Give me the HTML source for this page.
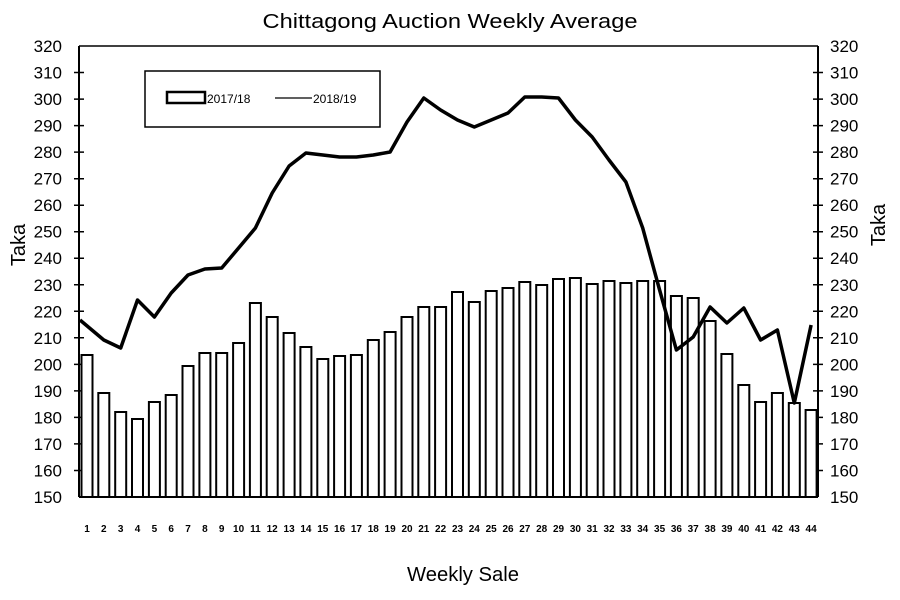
<!DOCTYPE html>
<html><head><meta charset="utf-8"><style>
html,body{margin:0;padding:0;background:#fff;}
svg{display:block;}
text{font-family:"Liberation Sans",sans-serif;fill:#000;}
</style></head><body>
<svg width="900" height="600" viewBox="0 0 900 600" xmlns="http://www.w3.org/2000/svg">
<text x="450" y="28" font-size="20" text-anchor="middle" textLength="375" lengthAdjust="spacingAndGlyphs">Chittagong Auction Weekly Average</text>
<text x="463" y="581" font-size="20" text-anchor="middle" textLength="112" lengthAdjust="spacingAndGlyphs">Weekly Sale</text>
<text transform="translate(25,245) rotate(-90)" font-size="20" text-anchor="middle">Taka</text>
<text transform="translate(885,225) rotate(-90)" font-size="20" text-anchor="middle">Taka</text>

<g stroke="#000" fill="none">
<line x1="79" y1="46" x2="818" y2="46" stroke-width="1.5"/>
<line x1="79" y1="46" x2="79" y2="497" stroke-width="2"/>
<line x1="818" y1="46" x2="818" y2="497" stroke-width="2"/>
<path stroke-width="1.5" d="M74 470.5H84M74 443.9H84M74 417.4H84M74 390.9H84M74 364.4H84M74 337.8H84M74 311.3H84M74 284.8H84M74 258.2H84M74 231.7H84M74 205.2H84M74 178.7H84M74 152.1H84M74 125.6H84M74 99.1H84M74 72.5H84
M813 470.5H823M813 443.9H823M813 417.4H823M813 390.9H823M813 364.4H823M813 337.8H823M813 311.3H823M813 284.8H823M813 258.2H823M813 231.7H823M813 205.2H823M813 178.7H823M813 152.1H823M813 125.6H823M813 99.1H823M813 72.5H823"/>
</g>

<g font-size="17" text-anchor="end">
<text x="62" y="503">150</text><text x="62" y="476.5">160</text><text x="62" y="450">170</text><text x="62" y="423.4">180</text><text x="62" y="396.9">190</text><text x="62" y="370.4">200</text><text x="62" y="343.8">210</text><text x="62" y="317.3">220</text><text x="62" y="290.8">230</text><text x="62" y="264.2">240</text><text x="62" y="237.7">250</text><text x="62" y="211.2">260</text><text x="62" y="184.7">270</text><text x="62" y="158.1">280</text><text x="62" y="131.6">290</text><text x="62" y="105.1">300</text><text x="62" y="78.5">310</text><text x="62" y="52">320</text>
</g>
<g font-size="17">
<text x="830" y="503">150</text><text x="830" y="476.5">160</text><text x="830" y="450">170</text><text x="830" y="423.4">180</text><text x="830" y="396.9">190</text><text x="830" y="370.4">200</text><text x="830" y="343.8">210</text><text x="830" y="317.3">220</text><text x="830" y="290.8">230</text><text x="830" y="264.2">240</text><text x="830" y="237.7">250</text><text x="830" y="211.2">260</text><text x="830" y="184.7">270</text><text x="830" y="158.1">280</text><text x="830" y="131.6">290</text><text x="830" y="105.1">300</text><text x="830" y="78.5">310</text><text x="830" y="52">320</text>
</g>

<g fill="#fff" stroke="#000" stroke-width="2">
<rect x="81.5" y="355" width="11" height="142"/>
<rect x="98.3" y="393" width="11" height="104"/>
<rect x="115.2" y="412" width="11" height="85"/>
<rect x="132" y="419" width="11" height="78"/>
<rect x="148.9" y="402" width="11" height="95"/>
<rect x="165.7" y="395" width="11" height="102"/>
<rect x="182.5" y="366" width="11" height="131"/>
<rect x="199.4" y="353" width="11" height="144"/>
<rect x="216.2" y="353" width="11" height="144"/>
<rect x="233.1" y="343" width="11" height="154"/>
<rect x="249.9" y="303" width="11" height="194"/>
<rect x="266.7" y="317" width="11" height="180"/>
<rect x="283.6" y="333" width="11" height="164"/>
<rect x="300.4" y="347" width="11" height="150"/>
<rect x="317.3" y="359" width="11" height="138"/>
<rect x="334.1" y="356" width="11" height="141"/>
<rect x="350.9" y="355" width="11" height="142"/>
<rect x="367.8" y="340" width="11" height="157"/>
<rect x="384.6" y="332" width="11" height="165"/>
<rect x="401.5" y="317" width="11" height="180"/>
<rect x="418.3" y="307" width="11" height="190"/>
<rect x="435.1" y="307" width="11" height="190"/>
<rect x="452" y="292" width="11" height="205"/>
<rect x="468.8" y="302" width="11" height="195"/>
<rect x="485.7" y="291" width="11" height="206"/>
<rect x="502.5" y="288" width="11" height="209"/>
<rect x="519.3" y="282" width="11" height="215"/>
<rect x="536.2" y="285" width="11" height="212"/>
<rect x="553" y="279" width="11" height="218"/>
<rect x="569.9" y="278" width="11" height="219"/>
<rect x="586.7" y="284" width="11" height="213"/>
<rect x="603.5" y="281" width="11" height="216"/>
<rect x="620.4" y="283" width="11" height="214"/>
<rect x="637.2" y="281" width="11" height="216"/>
<rect x="654.1" y="281" width="11" height="216"/>
<rect x="670.9" y="296" width="11" height="201"/>
<rect x="687.7" y="298" width="11" height="199"/>
<rect x="704.6" y="321" width="11" height="176"/>
<rect x="721.4" y="354" width="11" height="143"/>
<rect x="738.3" y="385" width="11" height="112"/>
<rect x="755.1" y="402" width="11" height="95"/>
<rect x="771.9" y="393" width="11" height="104"/>
<rect x="788.8" y="403" width="11" height="94"/>
<rect x="805.6" y="410" width="11" height="87"/>
</g>
<line x1="79" y1="497" x2="818" y2="497" stroke="#000" stroke-width="2"/>

<g font-size="10" font-weight="bold" text-anchor="middle">
<text x="87" y="532">1</text><text x="103.8" y="532">2</text><text x="120.7" y="532">3</text><text x="137.5" y="532">4</text><text x="154.4" y="532">5</text><text x="171.2" y="532">6</text><text x="188" y="532">7</text><text x="204.9" y="532">8</text><text x="221.7" y="532">9</text><text x="238.6" y="532">10</text><text x="255.4" y="532">11</text><text x="272.2" y="532">12</text><text x="289.1" y="532">13</text><text x="305.9" y="532">14</text><text x="322.8" y="532">15</text><text x="339.6" y="532">16</text><text x="356.4" y="532">17</text><text x="373.3" y="532">18</text><text x="390.1" y="532">19</text><text x="407" y="532">20</text><text x="423.8" y="532">21</text><text x="440.6" y="532">22</text><text x="457.5" y="532">23</text><text x="474.3" y="532">24</text><text x="491.2" y="532">25</text><text x="508" y="532">26</text><text x="524.8" y="532">27</text><text x="541.7" y="532">28</text><text x="558.5" y="532">29</text><text x="575.4" y="532">30</text><text x="592.2" y="532">31</text><text x="609" y="532">32</text><text x="625.9" y="532">33</text><text x="642.7" y="532">34</text><text x="659.6" y="532">35</text><text x="676.4" y="532">36</text><text x="693.2" y="532">37</text><text x="710.1" y="532">38</text><text x="726.9" y="532">39</text><text x="743.8" y="532">40</text><text x="760.6" y="532">41</text><text x="777.4" y="532">42</text><text x="794.3" y="532">43</text><text x="811.1" y="532">44</text>
</g>

<path fill="none" stroke="#000" stroke-width="3.5" stroke-linejoin="round" d="M80 320 L103.8 340 L120.7 348 L137.5 300 L154.4 317 L171.2 293 L188 275 L204.9 269 L221.7 268 L238.6 248 L255.4 228 L272.2 193 L289.1 166 L305.9 153 L322.8 155 L339.6 157 L356.4 157 L373.3 155 L390.1 152 L407 122 L423.8 98 L440.6 110 L457.5 120 L474.3 127 L491.2 120 L508 113 L524.8 97 L541.7 97 L558.5 98 L575.4 120 L592.2 137 L609 160 L625.9 182 L642.7 228 L659.6 290 L676.4 350 L693.2 337 L710.1 307 L726.9 323 L743.8 308 L760.6 340 L777.4 330 L794.3 403 L811.1 325"/>

<rect x="145" y="71" width="235" height="56" fill="#fff" stroke="#000" stroke-width="1.5"/>
<rect x="167" y="92" width="38" height="11" fill="none" stroke="#000" stroke-width="2.5"/>
<text x="207" y="103" font-size="12">2017/18</text>
<line x1="275" y1="98" x2="312" y2="98" stroke="#000" stroke-width="1.2"/>
<text x="313" y="103" font-size="12">2018/19</text>
</svg>
</body></html>
